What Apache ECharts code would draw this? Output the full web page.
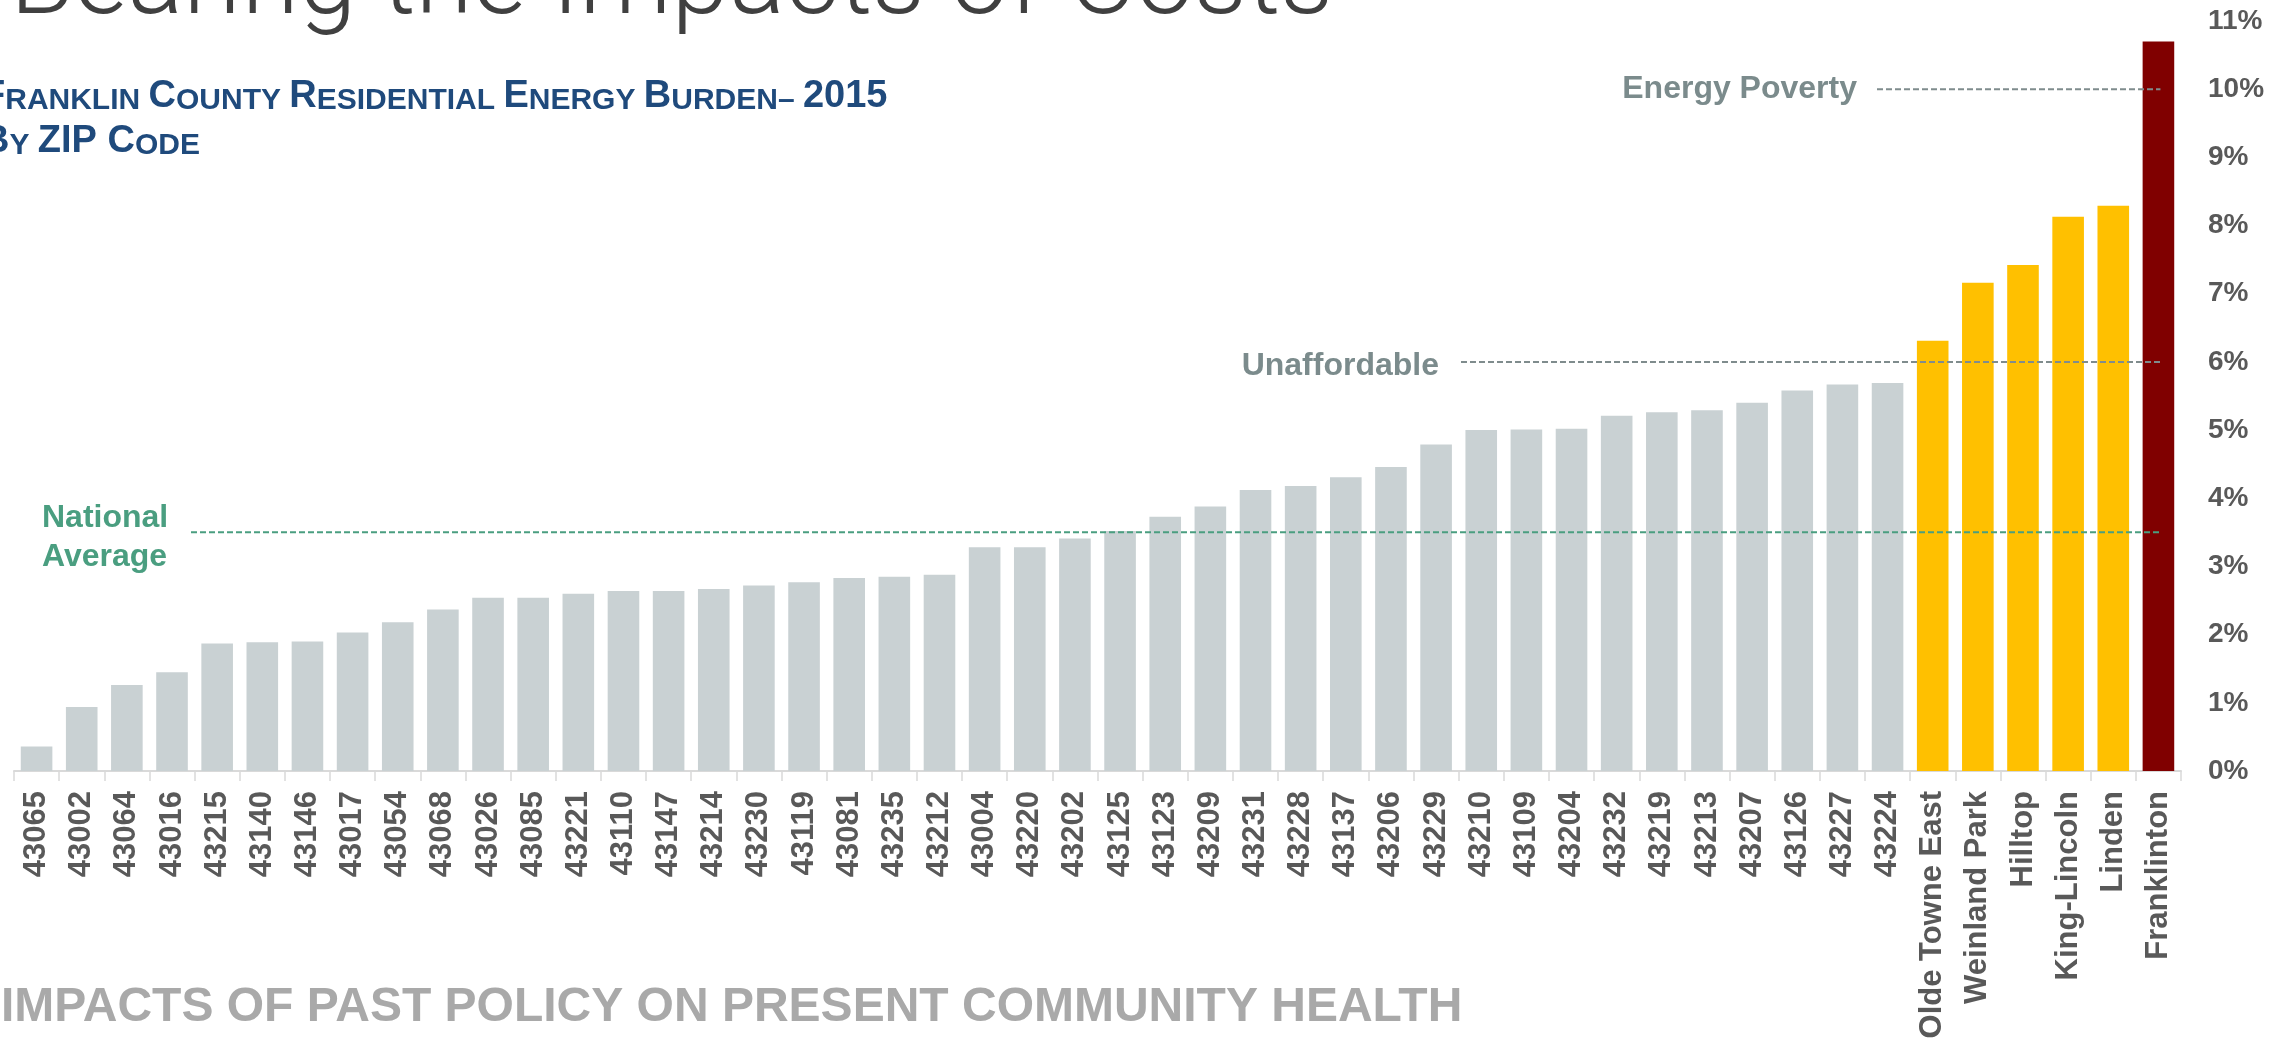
<!DOCTYPE html>
<html>
<head>
<meta charset="utf-8">
<title>Franklin County Residential Energy Burden 2015</title>
<script src="https://cdn.jsdelivr.net/npm/echarts@6/dist/echarts.min.js"></script>
<style>
  html, body { margin: 0; padding: 0; background: #fff; }
  #chart { width: 2293px; height: 1048px; }
</style>
</head>
<body>
<div id="chart"></div>
<script>
// zip codes, sorted by burden
const zipCodes = [
  '43065', '43002', '43064', '43016', '43215', '43140', '43146', '43017', '43054', '43068',
  '43026', '43085', '43221', '43110', '43147', '43214', '43230', '43119', '43081', '43235',
  '43212', '43004', '43220', '43202', '43125', '43123', '43209', '43231', '43228', '43137',
  '43206', '43229', '43210', '43109', '43204', '43232', '43219', '43213', '43207', '43126',
  '43227', '43224'
]
const zipBurden = [
  0.36, 0.94, 1.26, 1.45, 1.87, 1.89, 1.90, 2.03, 2.18, 2.37,
  2.54, 2.54, 2.60, 2.64, 2.64, 2.67, 2.72, 2.77, 2.83, 2.85,
  2.88, 3.28, 3.28, 3.41, 3.52, 3.73, 3.88, 4.12, 4.18, 4.31,
  4.46, 4.79, 5.00, 5.01, 5.02, 5.21, 5.26, 5.29, 5.40, 5.58,
  5.67, 5.69
]

// neighborhoods
const neighborhoods = ['Olde Towne East', 'Weinland Park', 'Hilltop', 'King-Lincoln', 'Linden', 'Franklinton']
const neighborhoodBurden = [6.31, 7.16, 7.42, 8.13, 8.29, 10.70]

// reference levels (%)
const nationalAverage = 3.5
const unaffordable = 6
const energyPoverty = 10

const categories = zipCodes.concat(neighborhoods)
const burden = zipBurden.concat(neighborhoodBurden)

const GRAY = '#c9d1d3'
const YELLOW = '#ffc000'
const DARK_RED = '#800000'
const LABEL = '#595959'
const BLUE = '#1f4a7c'

const chart = echarts.init(document.getElementById('chart'))

const option = {
  animation: false,
  backgroundColor: '#fff',
  grid: { left: 14, right: 112, top: 21, bottom: 277 },
  xAxis: {
    type: 'category',
    data: categories,
    axisLine: { lineStyle: { color: '#d9d9d9', width: 2 } },
    axisTick: { show: true, length: 10, lineStyle: { color: '#d9d9d9', width: 1.5 } },
    axisLabel: {
      interval: 0,
      rotate: 90,
      margin: 20,
      color: LABEL,
      fontFamily: 'Liberation Sans, Arial, sans-serif',
      fontWeight: 'bold',
      fontSize: 31
    }
  },
  yAxis: {
    type: 'value',
    position: 'right',
    min: 0,
    max: 11,
    interval: 1,
    axisLine: { show: false },
    axisTick: { show: false },
    splitLine: { show: false },
    axisLabel: {
      formatter: '{value}%',
      margin: 27,
      align: 'left',
      color: LABEL,
      fontFamily: 'Liberation Sans, Arial, sans-serif',
      fontWeight: 'bold',
      fontSize: 28
    }
  },
  series: [
    {
      type: 'bar',
      barWidth: '70%',
      data: burden,
      itemStyle: {
        color: (p) => {
          if (p.dataIndex < zipCodes.length) return GRAY
          return p.name === 'Franklinton' ? DARK_RED : YELLOW
        }
      }
    }
  ]
}

chart.setOption(option)

// annotations placed with the chart's own scales
const yOf = (v) => chart.convertToPixel({ yAxisIndex: 0 }, v)
const xEnd = chart.convertToPixel({ xAxisIndex: 0 }, 'Franklinton') + 2
const yNat = yOf(nationalAverage)
const yUnaff = yOf(unaffordable)
const yPov = yOf(energyPoverty)

const boldFont = 'Liberation Sans, Arial, sans-serif'
const dashLine = (x1, y, color) => ({
  type: 'line',
  z: 10,
  shape: { x1: x1, y1: y, x2: xEnd, y2: y },
  style: { stroke: color, lineWidth: 2, lineDash: [6, 3] }
})

const big = { fontSize: 38, lineHeight: 38, fontWeight: 'bold', fontFamily: boldFont, fill: BLUE, verticalAlign: 'bottom' }
const small = { fontSize: 30, lineHeight: 38, fontWeight: 'bold', fontFamily: boldFont, fill: BLUE, verticalAlign: 'bottom' }

chart.setOption({
  graphic: [
    {
      type: 'text',
      z: 10,
      x: 1333,
      y: -13,
      style: {
        text: 'Bearing the Impacts of Costs',
        fill: '#404040',
        fontFamily: 'Roboto, Lato, sans-serif',
        fontWeight: 300,
        fontSize: 104,
        align: 'right',
        verticalAlign: 'middle'
      }
    },
    {
      type: 'text',
      z: 10,
      x: -18,
      y: 78,
      style: {
        text: '{b|F}{s|RANKLIN }{b|C}{s|OUNTY }{b|R}{s|ESIDENTIAL }{b|E}{s|NERGY }{b|B}{s|URDEN– }{b|2015}',
        rich: { b: big, s: small },
        fill: BLUE,
        verticalAlign: 'top'
      }
    },
    {
      type: 'text',
      z: 10,
      x: -18,
      y: 123,
      style: {
        text: '{b|B}{s|Y }{b|ZIP }{b|C}{s|ODE}',
        rich: { b: big, s: small },
        fill: BLUE,
        verticalAlign: 'top'
      }
    },
    {
      type: 'text',
      z: 10,
      x: 1,
      y: 1008,
      style: {
        text: 'IMPACTS OF PAST POLICY ON PRESENT COMMUNITY HEALTH',
        fill: '#a9a9a9',
        fontFamily: boldFont,
        fontWeight: 'bold',
        fontSize: 48,
        align: 'left',
        verticalAlign: 'middle'
      }
    },
    // national average
    dashLine(191, yNat, '#4a9e80'),
    {
      type: 'text',
      z: 10,
      x: 42,
      y: yNat + 5,
      style: {
        text: 'National\nAverage',
        fill: '#4a9e80',
        fontFamily: boldFont,
        fontWeight: 'bold',
        fontSize: 32,
        lineHeight: 39,
        align: 'left',
        verticalAlign: 'middle'
      }
    },
    // unaffordable
    dashLine(1461, yUnaff, '#7f8c8d'),
    {
      type: 'text',
      z: 10,
      x: 1439,
      y: yUnaff + 4,
      style: {
        text: 'Unaffordable',
        fill: '#7b8b8c',
        fontFamily: boldFont,
        fontWeight: 'bold',
        fontSize: 32,
        align: 'right',
        verticalAlign: 'middle'
      }
    },
    // energy poverty
    dashLine(1877, yPov, '#7f8c8d'),
    {
      type: 'text',
      z: 10,
      x: 1857,
      y: yPov,
      style: {
        text: 'Energy Poverty',
        fill: '#7b8b8c',
        fontFamily: boldFont,
        fontWeight: 'bold',
        fontSize: 32,
        align: 'right',
        verticalAlign: 'middle'
      }
    }
  ]
})

window.addEventListener('resize', () => chart.resize())
</script>
</body>
</html>
